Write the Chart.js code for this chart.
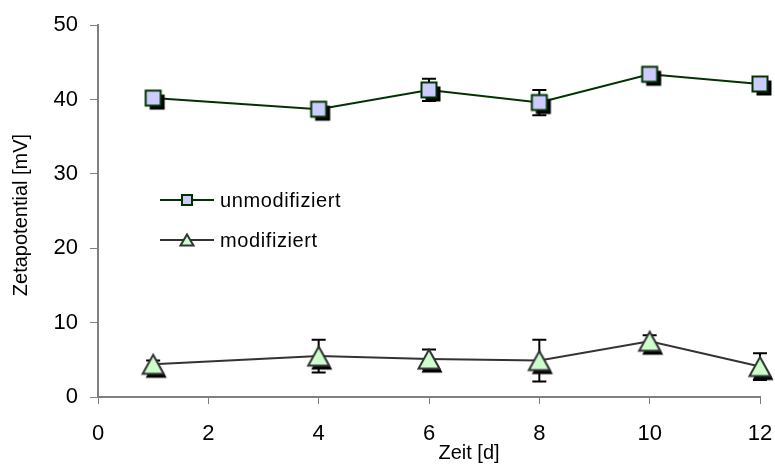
<!DOCTYPE html>
<html>
<head>
<meta charset="utf-8">
<script src="https://cdn.jsdelivr.net/npm/chart.js@4/dist/chart.umd.min.js"></script>
<style>
  body { margin: 0; background: #fff; }
  #wrap { width: 775px; height: 469px; }
</style>
</head>
<body>
<div id="wrap"><canvas id="chartZeta" width="775" height="469"></canvas></div>
<script>
// Messdaten: Zetapotential ueber die Zeit
const days = [1, 4, 6, 8, 10, 12];
const unmodValues = [40.2, 38.7, 41.3, 39.6, 43.4, 42.1];
const unmodErrors = [0.3, 0.4, 1.5, 1.7, 0.4, 0.3];
const modValues = [4.4, 5.5, 5.1, 4.9, 7.5, 4.1];
const modErrors = [0.5, 2.2, 1.3, 2.8, 0.8, 1.8];
const seriesLabels = ['unmodifiziert', 'modifiziert'];
const xTicks = [0, 2, 4, 6, 8, 10, 12];
const yTicks = [0, 10, 20, 30, 40, 50];

const FONT = '"Liberation Sans", Arial, sans-serif';

/**
 * Marker images incl. black drop shadow (like the Excel chart)
 */
function squareMarker(side, shadow) {
    const c = document.createElement('canvas');
    c.width = 32; c.height = 32;
    const g = c.getContext('2d');
    const o = 16 - side / 2;
    if (shadow) {
        g.fillStyle = '#000';
        g.fillRect(o + shadow, o + shadow, side, side);
    }
    g.fillStyle = '#ccccff';
    g.fillRect(o, o, side, side);
    g.strokeStyle = '#003300';
    g.lineWidth = 2;
    g.strokeRect(o, o, side, side);
    return c;
}

function triangleMarker(w, h, shadow) {
    const c = document.createElement('canvas');
    c.width = 36; c.height = 36;
    const g = c.getContext('2d');
    const path = (dx, dy) => {
        g.beginPath();
        g.moveTo(18 + dx, 18 - h / 2 + dy);
        g.lineTo(18 + w / 2 + dx, 18 + h / 2 + dy);
        g.lineTo(18 - w / 2 + dx, 18 + h / 2 + dy);
        g.closePath();
    };
    if (shadow) {
        path(3, 4);
        g.fillStyle = '#000';
        g.fill();
    }
    path(0, 0);
    g.fillStyle = '#ccffcc';
    g.fill();
    g.strokeStyle = '#333333';
    g.lineWidth = 2;
    g.stroke();
    return c;
}

const errorSets = [unmodErrors, modErrors];

// error bars behind the markers
const errorBars = {
    id: 'errorBars',
    beforeDatasetsDraw(chart) {
        const ctx = chart.ctx;
        const y = chart.scales.y;
        ctx.save();
        ctx.strokeStyle = '#000';
        ctx.lineWidth = 2;
        chart.data.datasets.forEach((ds, i) => {
            const meta = chart.getDatasetMeta(i);
            meta.data.forEach((pt, j) => {
                const v = ds.data[j].y;
                const e = errorSets[i][j];
                const top = y.getPixelForValue(v + e);
                const bot = y.getPixelForValue(v - e);
                ctx.beginPath();
                ctx.moveTo(pt.x, top); ctx.lineTo(pt.x, bot);
                ctx.moveTo(pt.x - 7, top); ctx.lineTo(pt.x + 7, top);
                ctx.moveTo(pt.x - 7, bot); ctx.lineTo(pt.x + 7, bot);
                ctx.stroke();
            });
        });
        ctx.restore();
    }
};

// legend inside the plot + axis titles
const extras = {
    id: 'extras',
    afterDraw(chart) {
        const ctx = chart.ctx;
        ctx.save();
        const rows = [200, 240];
        chart.data.datasets.forEach((ds, i) => {
            const yy = rows[i];
            ctx.strokeStyle = ds.borderColor;
            ctx.lineWidth = 2;
            ctx.beginPath();
            ctx.moveTo(160, yy); ctx.lineTo(214, yy);
            ctx.stroke();
            const img = ds.legendMarker;
            ctx.drawImage(img, 187 - img.width / 2, yy - img.height / 2);
            ctx.fillStyle = '#000';
            ctx.font = '20px ' + FONT;
            ctx.letterSpacing = '0.6px';
            ctx.textBaseline = 'middle';
            ctx.textAlign = 'left';
            ctx.fillText(ds.label, 220, yy + 1);
        });
        ctx.letterSpacing = '0px';
        ctx.font = '20px ' + FONT;
        ctx.textAlign = 'center';
        ctx.textBaseline = 'middle';
        ctx.fillText('Zeit [d]', 469, 453);
        ctx.translate(21, 215);
        ctx.rotate(-Math.PI / 2);
        ctx.fillText('Zetapotential [mV]', 0, 0);
        ctx.restore();
    }
};

function renderChart() {
    const ctx = document.getElementById('chartZeta').getContext('2d');
    new Chart(ctx, {
        type: 'scatter',
        data: {
            datasets: [{
                label: seriesLabels[0],
                data: days.map((d, i) => ({ x: d, y: unmodValues[i] })),
                showLine: true,
                clip: false,
                borderColor: '#003300',
                borderWidth: 2,
                pointStyle: squareMarker(15, 4),
                legendMarker: squareMarker(10, 0)
            }, {
                label: seriesLabels[1],
                data: days.map((d, i) => ({ x: d, y: modValues[i] })),
                showLine: true,
                clip: false,
                borderColor: '#333333',
                borderWidth: 2,
                pointStyle: triangleMarker(21, 19, true),
                legendMarker: triangleMarker(13, 11, false)
            }]
        },
        options: {
            responsive: false,
            animation: false,
            events: [],
            layout: { padding: { top: 23, right: 15, left: 0, bottom: 0 } },
            plugins: { legend: { display: false }, tooltip: { enabled: false } },
            scales: {
                x: {
                    type: 'linear',
                    min: 0, max: 12,
                    afterFit(s) { s.height = 72; s.paddingRight = 15; s.paddingLeft = 0; },
                    afterBuildTicks(s) { s.ticks = xTicks.map(v => ({ value: v })); },
                    grid: { drawOnChartArea: false, tickLength: 7, color: '#808080', lineWidth: 1 },
                    border: { color: '#808080', width: 2 },
                    ticks: { color: '#000', padding: 17, font: { family: FONT, size: 22 } }
                },
                y: {
                    min: 0, max: 50,
                    afterFit(s) { s.width = 98; },
                    afterBuildTicks(s) { s.ticks = yTicks.map(v => ({ value: v })); },
                    grid: { drawOnChartArea: false, tickLength: 8, color: '#808080', lineWidth: 1 },
                    border: { color: '#808080', width: 2 },
                    ticks: { color: '#000', padding: 12, font: { family: FONT, size: 22 } }
                }
            }
        },
        plugins: [errorBars, extras]
    });
}

document.addEventListener('DOMContentLoaded', renderChart);
</script>
</body>
</html>
